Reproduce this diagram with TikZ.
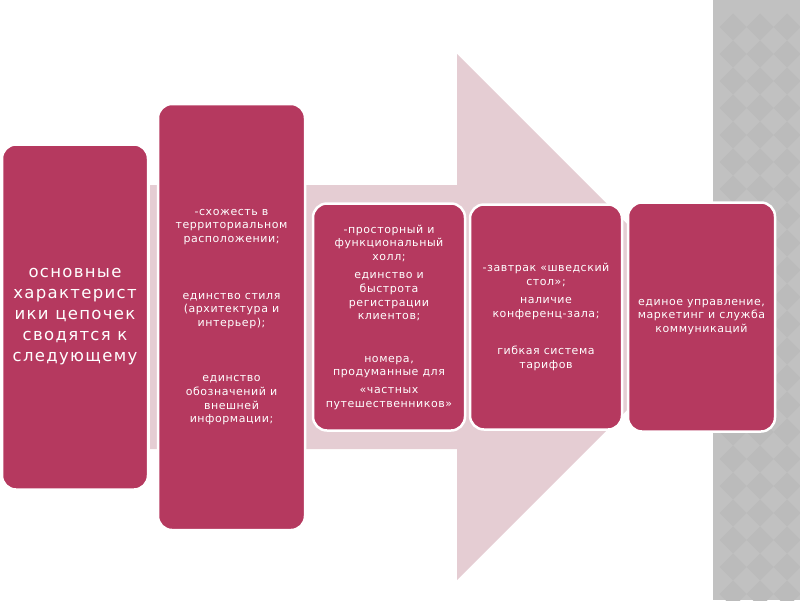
\documentclass[tikz,border=0pt]{standalone}
\usepackage{fontspec}
\setmainfont{DejaVu Sans}
\usetikzlibrary{positioning}
\definecolor{chainred}{HTML}{B5395F}
\definecolor{arrowpink}{HTML}{E5CDD3}
\definecolor{stripgray}{HTML}{C1C1C1}
\definecolor{diamondgray}{HTML}{BBBBBB}

\begin{document}
\begin{tikzpicture}[x=1pt, y=-1pt,
  stage/.style={rectangle, draw=white, line width=2.5pt, fill=chainred, rounded corners=14pt,
    text=white, align=center, inner sep=0pt, outer sep=0pt,
    font=\fontsize{11}{13.6}\selectfont\addfontfeatures{LetterSpace=5}},
  lead/.style={stage, font=\fontsize{16.5}{21}\selectfont\addfontfeatures{LetterSpace=8}}
]
  \useasboundingbox (0,0) rectangle (800,600);

  % background strip and the big arrow
  \fill[stripgray] (713,0) rectangle (800,600);
  \begin{scope}
    \clip (714,0) rectangle (800,600);
    \foreach \i in {0,...,3}
      \foreach \j in {0,...,22}
        \fill[diamondgray] (733+27*\i,13.5+27*\j) -- ++(13.5,13.5) -- ++(-13.5,13.5) -- ++(-13.5,-13.5) -- cycle;
  \end{scope}
  \fill[arrowpink] (150,185) -- (457,185) -- (457,54) -- (720,317) -- (457,580) -- (457,449) -- (150,449) -- cycle;

  \node[lead, minimum width=146pt, minimum height=345pt] (main) at (75,317)
    {основные\\характерист\\ики цепочек\\сводятся к\\следующему};
  \node[stage, minimum width=147pt, minimum height=426pt, right=10pt of main] (place)
    {-схожесть в\\территориальном\\расположении;\\[43pt]
     единство стиля\\(архитектура и\\интерьер);\\[42pt]
     единство\\обозначений и\\внешней\\информации;};
  \node[stage, minimum width=152pt, minimum height=227pt, right=8pt of place] (hall)
    {-просторный и\\функциональный\\холл;\\[5pt]
     единство и\\быстрота\\регистрации\\клиентов;\\[29pt]
     номера,\\продуманные для\\[4pt]
     «частных\\путешественников»};
  \node[stage, minimum width=152pt, minimum height=225pt, right=5pt of hall] (serv)
    {-завтрак «шведский\\стол»;\\[5pt]
     наличие\\конференц-зала;\\[24pt]
     гибкая система\\тарифов};
  \node[stage, minimum width=147pt, minimum height=229pt, right=6pt of serv] (mgmt)
    {единое управление,\\маркетинг и служба\\коммуникаций};
\end{tikzpicture}
\end{document}
